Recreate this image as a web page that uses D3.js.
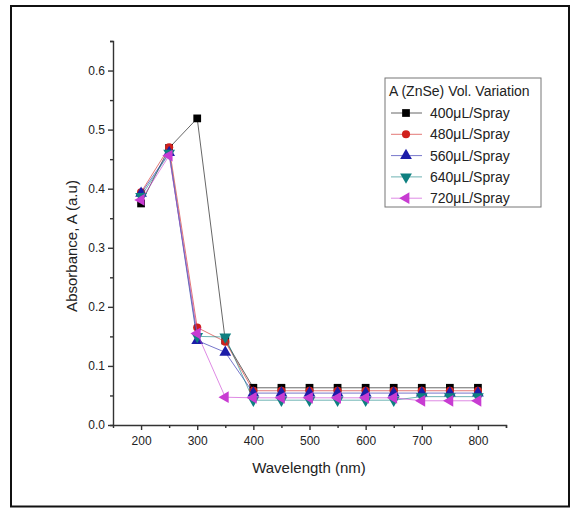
<!DOCTYPE html>
<html>
<head>
<meta charset="utf-8">
<script src="https://cdn.jsdelivr.net/npm/d3@7"></script>
<style>
  body { margin: 0; background: #fff; }
  text { font-family: "Liberation Sans", Arial, sans-serif; fill: #222; }
</style>
</head>
<body>
<div id="chart-area"></div>
<script>

// SVG Size
var width = 571,
    height = 508;

// Data
var wavelength = [200, 250, 300, 350, 400, 450, 500, 550, 600, 650, 700, 750, 800];

var seriesNames = ["400\u03BCL/Spray", "480\u03BCL/Spray", "560\u03BCL/Spray", "640\u03BCL/Spray", "720\u03BCL/Spray"];

var abs400 = [0.375, 0.469, 0.519, 0.143, 0.063, 0.063, 0.063, 0.063, 0.063, 0.063, 0.063, 0.063, 0.063];
var abs480 = [0.394, 0.470, 0.165, 0.141, 0.058, 0.058, 0.058, 0.058, 0.058, 0.058, 0.058, 0.058, 0.058];
var abs560 = [0.392, 0.461, 0.143, 0.123, 0.054, 0.054, 0.054, 0.054, 0.054, 0.054, 0.054, 0.054, 0.054];
var abs640 = [0.387, 0.460, 0.150, 0.149, 0.042, 0.042, 0.042, 0.042, 0.042, 0.042, 0.048, 0.048, 0.048];
var abs720 = [0.381, 0.456, 0.155, 0.047, 0.046, 0.046, 0.046, 0.046, 0.046, 0.046, 0.041, 0.041, 0.041];

var xTicks = [200, 300, 400, 500, 600, 700, 800];
var yTicks = [0.0, 0.1, 0.2, 0.3, 0.4, 0.5, 0.6];

var colors = ["#000000", "#d0201c", "#1c1ca8", "#0e8080", "#c83cd2"];
var shapes = [d3.symbolSquare, d3.symbolCircle, d3.symbolTriangle, d3.symbolTriangle, d3.symbolTriangle];
var rotations = [0, 0, 0, 180, -90];
var sizes = [60, 52, 60, 60, 60];

var series = [abs400, abs480, abs560, abs640, abs720].map(function(vals, i) {
  return {
    name: seriesNames[i],
    values: vals.map(function(v, j) { return { x: wavelength[j], y: v }; })
  };
});

// Append a new SVG area
var svg = d3.select("#chart-area").append("svg")
    .attr("width", width)
    .attr("height", height);

// Outer frame
svg.append("rect")
  .attr("x", 11).attr("y", 6)
  .attr("width", 558).attr("height", 500.5)
  .attr("fill", "none")
  .attr("stroke", "#111")
  .attr("stroke-width", 2);

// Scales
var x = d3.scaleLinear().domain([150, 850]).range([113, 506]);
var y = d3.scaleLinear().domain([0, 0.65]).range([425, 41]);

// X axis
var xAxis = svg.append("g").attr("transform", "translate(0," + y(0) + ")");
xAxis.call(d3.axisBottom(x).tickValues(d3.range(200, 851, 50)).tickSize(3).tickFormat(""));
xAxis.call(function(g) {
  g.selectAll(".tick").filter(function(d) { return d % 100 === 0; })
    .select("line").attr("y2", 5);
});
var xLab = svg.append("g").attr("transform", "translate(0," + y(0) + ")")
  .call(d3.axisBottom(x).tickValues(xTicks).tickSize(0).tickPadding(11));
xLab.select(".domain").remove();
xLab.selectAll("text").attr("font-size", 12).attr("font-family", "Liberation Sans, Arial, sans-serif").attr("fill", "#222");

// Y axis
var yAxis = svg.append("g").attr("transform", "translate(" + x(150) + ",0)");
yAxis.call(d3.axisLeft(y).tickValues(d3.range(0, 0.651, 0.05)).tickSize(3).tickFormat(""));
yAxis.selectAll(".tick").filter(function(d) { return Math.round(d * 100) % 10 === 0; })
  .select("line").attr("x2", -5);
var yLab = svg.append("g").attr("transform", "translate(" + x(150) + ",0)")
  .call(d3.axisLeft(y).tickValues(yTicks).tickSize(0).tickPadding(8).tickFormat(d3.format(".1f")));
yLab.select(".domain").remove();
yLab.selectAll("text").attr("font-size", 12).attr("font-family", "Liberation Sans, Arial, sans-serif").attr("fill", "#222");

svg.selectAll(".domain, .tick line").attr("stroke", "#333").attr("stroke-width", 1.4);

// Axis titles
svg.append("text")
  .attr("x", 309).attr("y", 473)
  .attr("text-anchor", "middle")
  .attr("font-size", 15)
  .text("Wavelength (nm)");

svg.append("text")
  .attr("transform", "translate(77,246) rotate(-90)")
  .attr("text-anchor", "middle")
  .attr("font-size", 15)
  .text("Absorbance, A (a.u)");

// Lines
var line = d3.line()
  .x(function(d) { return x(d.x); })
  .y(function(d) { return y(d.y); });

series.forEach(function(s, i) {
  var g = svg.append("g");
  g.append("path")
    .attr("d", line(s.values))
    .attr("fill", "none")
    .attr("stroke", colors[i])
    .attr("stroke-opacity", 0.6)
    .attr("stroke-width", 1);
  g.selectAll("path.pt")
    .data(s.values)
    .enter()
    .append("path")
    .attr("class", "pt")
    .attr("d", d3.symbol().type(shapes[i]).size(sizes[i]))
    .attr("transform", function(d) {
      return "translate(" + x(d.x) + "," + y(d.y) + ") rotate(" + rotations[i] + ")";
    })
    .attr("fill", colors[i]);
});

// Legend
var legend = svg.append("g");
legend.append("rect")
  .attr("x", 385).attr("y", 78)
  .attr("width", 156).attr("height", 129)
  .attr("fill", "#fff")
  .attr("stroke", "#777")
  .attr("stroke-width", 1);
legend.append("text")
  .attr("x", 389).attr("y", 96)
  .attr("font-size", 14)
  .text("A (ZnSe) Vol. Variation");

series.forEach(function(s, i) {
  var ly = 113 + i * 21.3;
  legend.append("line")
    .attr("x1", 391).attr("x2", 422)
    .attr("y1", ly).attr("y2", ly)
    .attr("stroke", colors[i])
    .attr("stroke-opacity", 0.6)
    .attr("stroke-width", 1);
  legend.append("path")
    .attr("d", d3.symbol().type(shapes[i]).size(sizes[i]))
    .attr("transform", "translate(406," + ly + ") rotate(" + rotations[i] + ")")
    .attr("fill", colors[i]);
  legend.append("text")
    .attr("x", 430).attr("y", ly + 5)
    .attr("font-size", 14)
    .text(s.name);
});

</script>
</body>
</html>
